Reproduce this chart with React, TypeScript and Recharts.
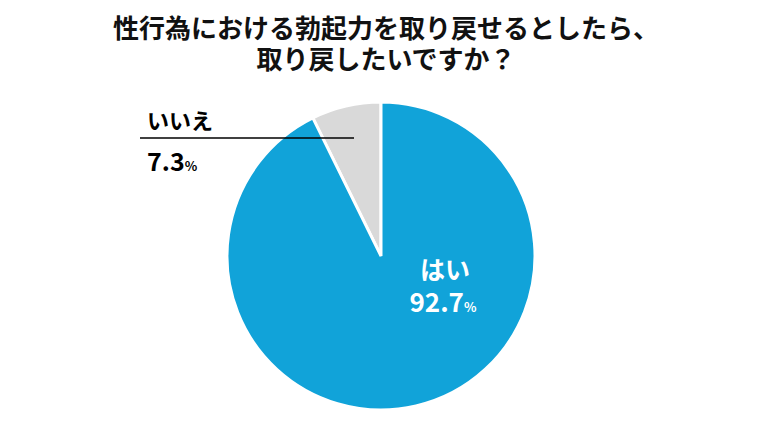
import { PieChart, Pie, Cell } from 'recharts';

const answers = ['いいえ', 'はい'];
const shares = [7.3, 92.7];
const sliceColors = ['#d9d9d9', '#11a3d9'];
const titleLines = ['性行為における勃起力を取り戻せるとしたら、', '取り戻したいですか？'];

const chartData = answers.map((name, i) => ({ name, value: shares[i] }));

const font = '"Noto Sans CJK JP", "Noto Sans", sans-serif';

function SliceLabel(props: any) {
  const { cx, cy, index, payload } = props;
  if (index === 0) {
    return (
      <g>
        <line x1={cx - 241} y1={cy - 118} x2={cx - 27} y2={cy - 118} stroke="#000" strokeWidth={1.5} />
        <text x={cx - 234} y={cy - 127} fill="#000" fontFamily={font} fontWeight={700} fontSize={22}>
          {payload.name}
        </text>
        <text x={cx - 234} y={cy - 85} fill="#000" fontFamily={font} fontWeight={700} fontSize={25}>
          {payload.value.toFixed(1)}
          <tspan fontSize={13}>%</tspan>
        </text>
      </g>
    );
  }
  return (
    <g>
      <text x={cx + 64} y={cy + 23} textAnchor="middle" fill="#fff" fontFamily={font} fontWeight={700} fontSize={25}>
        {payload.name}
      </text>
      <text x={cx + 62} y={cy + 56} textAnchor="middle" fill="#fff" fontFamily={font} fontWeight={700} fontSize={26}>
        {payload.value.toFixed(1)}
        <tspan fontSize={13}>%</tspan>
      </text>
    </g>
  );
}

export default function App() {
  return (
    <div style={{ position: 'fixed', left: 0, top: 0, width: 768, height: 432, background: '#fff' }}>
      {titleLines.map((t, i) => (
        <div
          key={t}
          style={{
            position: 'absolute',
            top: 14 + i * 31,
            left: 0,
            width: 768,
            height: 26,
            textAlign: 'center',
            fontFamily: font,
            fontWeight: 700,
            fontSize: 26,
            lineHeight: '26px',
            color: '#111',
            paddingLeft: 4,
            boxSizing: 'border-box',
            whiteSpace: 'nowrap',
          }}
        >
          {t}
        </div>
      ))}
      <PieChart width={768} height={432} style={{ position: 'absolute', left: 0, top: 0 }}>
        <Pie
          data={chartData}
          dataKey="value"
          nameKey="name"
          cx={376}
          cy={251}
          outerRadius={154}
          startAngle={90}
          endAngle={450}
          stroke="#fff"
          strokeWidth={3}
          label={SliceLabel}
          labelLine={false}
          isAnimationActive={false}
        >
          {chartData.map((d, i) => (
            <Cell key={d.name} fill={sliceColors[i]} />
          ))}
        </Pie>
      </PieChart>
    </div>
  );
}
